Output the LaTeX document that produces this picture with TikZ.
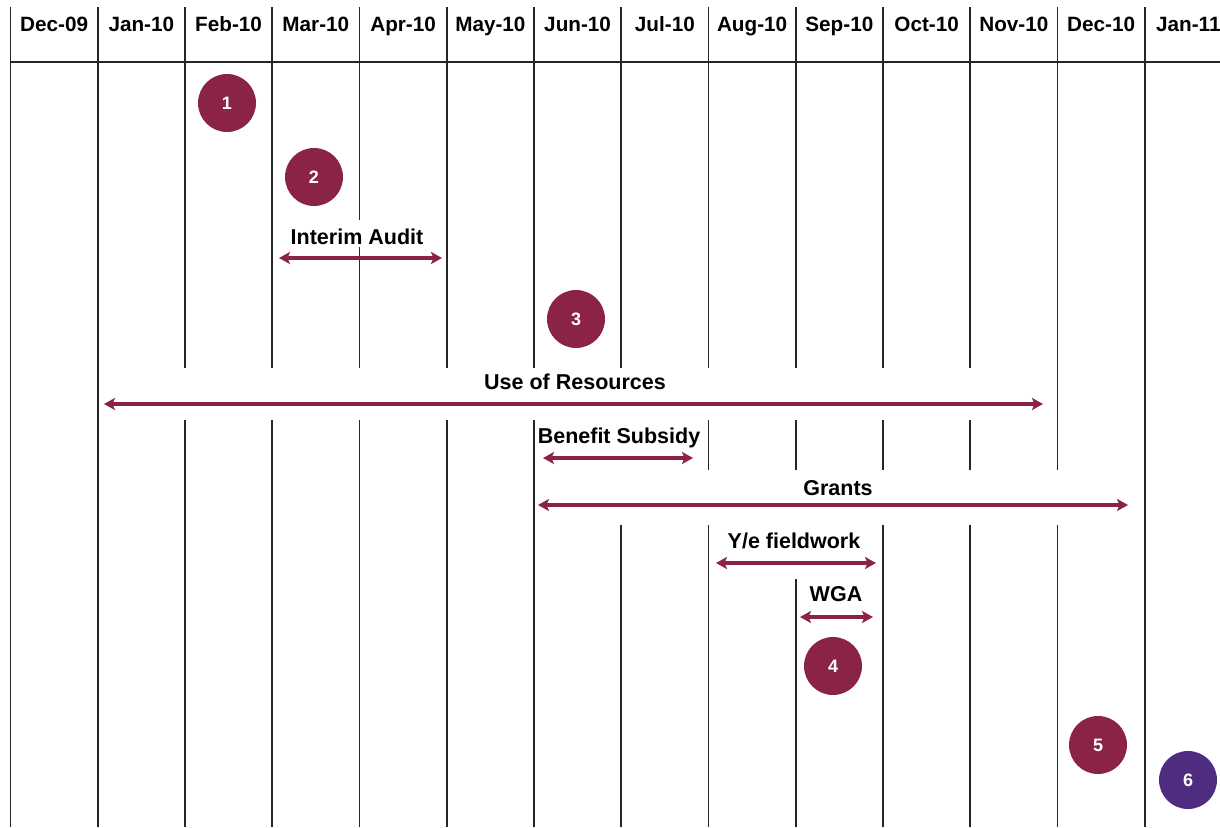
\documentclass[tikz,border=0pt]{standalone}
\usepackage{fontspec}
\setmainfont{Liberation Sans}
\usetikzlibrary{arrows.meta}
\definecolor{plum}{HTML}{8B2346}
\definecolor{indigo}{HTML}{4E2C80}

\begin{document}
\begin{tikzpicture}[x=1pt,y=-1pt]
%%%%%%%%%%%%%%%%%%%%%%%%%%%%%%%%%%%%%%%%%%%%%%%%%%%%%%%%
% STYLE
\tikzstyle{month}=[font=\fontsize{20.7}{24}\selectfont\bfseries, anchor=base, inner sep=0pt]
\tikzstyle{txt}=[font=\fontsize{21.5}{25}\selectfont\bfseries, anchor=base, inner sep=0pt]
\tikzstyle{dot}=[circle, fill=plum, text=white, minimum size=58pt, inner sep=0pt, font=\fontsize{18}{20}\selectfont\bfseries]
\tikzstyle{grid}=[line width=1.8pt, black!85]
\tikzstyle{mask}=[fill=white]

\tikzset{link/.style={{Stealth[length=11pt,width=12pt,inset=2.5pt]}-{Stealth[length=11pt,width=12pt,inset=2.5pt]}, line width=3.2pt, plum}}

\useasboundingbox (0,0) rectangle (1220,827);

%%%%%%%%%%%%%%%%%%%%%%%%%%%%%%%%%%%%%%%%%%%%%%%%%%%%%%%%
% GRID
\foreach \i in {0,...,13}
  \draw[grid] (10.5+87.25*\i,7) -- (10.5+87.25*\i,827);
\draw[grid] (10.5,62) -- (1220,62);

\foreach \m [count=\i from 0] in {Dec-09,Jan-10,Feb-10,Mar-10,Apr-10,May-10,Jun-10,Jul-10,Aug-10,Sep-10,Oct-10,Nov-10,Dec-10,Jan-11}
  \node[month] (M\i) at (54.1+87.25*\i,31) {\m};

% white bands behind the labels
\fill[mask] (285,220) rectangle (432,247);
\fill[mask] (104,368) rectangle (1046,420);
\fill[mask] (538,420) rectangle (703,470);
\fill[mask] (538,470) rectangle (1138,525);
\fill[mask] (712,525) rectangle (878,579);

%%%%%%%%%%%%%%%%%%%%%%%%%%%%%%%%%%%%%%%%%%%%%%%%%%%%%%%%
% NODES
\node[dot] (D1) at (227,103) {1};
\node[dot] (D2) at (314,177) {2};
\node[dot] (D3) at (576,319) {3};
\node[dot] (D4) at (833,666) {4};
\node[dot] (D5) at (1098,745) {5};
\node[dot, fill=indigo] (D6) at (1188,780) {6};

\node[txt] (txt1) at (357,244.5) {Interim Audit};
\node[txt] (txt2) at (575,389.5) {Use of Resources};
\node[txt] (txt3) at (619,443) {Benefit Subsidy};
\node[txt] (txt4) at (838,495) {Grants};
\node[txt] (txt5) at (794,548) {Y/e fieldwork};
\node[txt] (txt6) at (836,601) {WGA};

\coordinate (A1) at (279,258);  \coordinate (B1) at (442,258);
\coordinate (A2) at (104,404);  \coordinate (B2) at (1043,404);
\coordinate (A3) at (543,458);  \coordinate (B3) at (693,458);
\coordinate (A4) at (538,505);  \coordinate (B4) at (1128,505);
\coordinate (A5) at (716,563);  \coordinate (B5) at (876,563);
\coordinate (A6) at (800,617);  \coordinate (B6) at (873,617);

%%%%%%%%%%%%%%%%%%%%%%%%%%%%%%%%%%%%%%%%%%%%%%%%%%%%%%%%
% LINKS
\foreach \k in {1,...,6}
  \draw[link] (A\k) -- (B\k);
\end{tikzpicture}
\end{document}
